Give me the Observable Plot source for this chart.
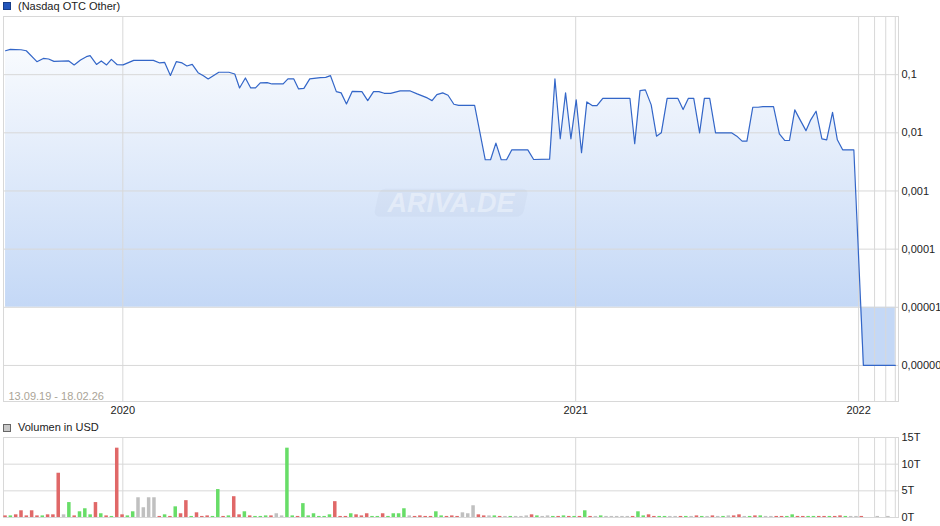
<!DOCTYPE html>
<html><head><meta charset="utf-8">
<script src="https://cdn.jsdelivr.net/npm/d3@7"></script>
<script src="https://cdn.jsdelivr.net/npm/@observablehq/plot@0.6"></script>
<style>
html,body{margin:0;padding:0;background:#fff;overflow:hidden;}
body{width:940px;height:526px;font-family:"Liberation Sans",Arial,sans-serif;font-size:11px;color:#222;}
.legend{position:relative;height:14px;}
.legend .sw{position:absolute;left:3px;top:2px;width:6px;height:6px;border:1px solid #333;}
.legend .lab{position:absolute;left:18px;top:0px;line-height:13px;white-space:nowrap;}
svg{display:block}
</style></head><body>
<div class="legend" id="leg1"><span class="sw" style="background:#2255bb;border-color:#163c88"></span><span class="lab" id="leg1lab"></span></div>
<div id="chart1"></div>
<div class="legend" id="leg2" style="height:16px"><span class="sw" style="background:#c8c8c8;border-color:#666;top:4px"></span><span class="lab" id="leg2lab" style="top:1px"></span></div>
<div id="chart2"></div>
<script>
// ---------- data ----------
const priceSeriesName = "(Nasdaq OTC Other)";
const volumeSeriesName = "Volumen in USD";
const dateRange = "13.09.19 - 18.02.26";
const watermark = "ARIVA.DE";

// position along the chart's (trading-period) axis, one unit per period
const priceT = [0,0.9,2.9,3.9,5.9,7.1,8.1,9.1,11.9,12.9,14.1,15.2,15.9,17.1,18.0,19.0,19.9,21.0,22.1,24.1,27.8,29.0,29.9,31.0,32.1,33.2,34.1,35.1,36.2,37.2,38.1,40.1,42.0,43.1,44.0,45.1,46.1,47.0,47.9,49.2,50.1,52.2,53.1,54.2,55.1,56.1,57.2,59.2,60.2,61.1,62.2,63.1,64.1,65.2,67.0,68.1,69.2,70.2,71.2,72.4,74.2,76.1,77.4,79.3,80.2,81.1,82.2,83.2,84.3,85.2,88.2,90.2,91.2,92.2,93.2,94.2,95.2,98.2,99.3,102.3,103.3,104.3,105.3,106.3,107.3,108.3,109.3,110.3,111.2,112.3,117.4,118.3,119.3,120.3,121.4,122.4,123.3,124.4,126.4,127.4,128.4,129.4,130.5,131.4,132.4,133.5,136.5,137.5,138.5,139.4,140.5,141.5,142.4,144.4,145.5,146.5,147.4,148.4,149.4,150.5,151.4,152.4,153.5,154.4,155.5,156.4,157.4,159.5,161.3,167.3];
const priceV = [0.258,0.272,0.268,0.258,0.167,0.190,0.186,0.169,0.172,0.147,0.179,0.204,0.212,0.150,0.172,0.147,0.183,0.148,0.147,0.176,0.176,0.159,0.163,0.097,0.167,0.159,0.141,0.150,0.108,0.096,0.0844,0.110,0.110,0.1028,0.0591,0.0878,0.0591,0.0591,0.0721,0.0729,0.0692,0.0692,0.0844,0.0844,0.0569,0.0582,0.0844,0.089,0.090,0.096,0.0511,0.0486,0.0314,0.0517,0.0511,0.0358,0.0511,0.0511,0.0478,0.0478,0.0525,0.0525,0.0467,0.0398,0.0358,0.0454,0.0486,0.0442,0.0310,0.0297,0.0297,0.00344,0.00344,0.00664,0.00344,0.00344,0.00510,0.00510,0.00348,0.00352,0.0844,0.00789,0.0486,0.00789,0.0368,0.00454,0.0340,0.0294,0.0294,0.0392,0.0392,0.00648,0.0532,0.0547,0.0302,0.00875,0.0100,0.0392,0.0392,0.0251,0.0392,0.0392,0.0100,0.0392,0.0392,0.0100,0.0100,0.00875,0.00718,0.00718,0.0275,0.0275,0.0282,0.0282,0.00961,0.00738,0.00738,0.0248,0.0167,0.0109,0.0167,0.0235,0.00789,0.00758,0.0225,0.00758,0.00510,0.00510,0.000001,0.000001];
const priceBase = 0.00001;

// volume per period (thousands USD), null = no trade
const volumeV = [
 0.3,0.3,0.5,1.26,0.3,1.26,0.3,0.3,0.5,0.5,
 8.3,0.5,2.8,0.3,1.07,1.64,0.5,2.8,0.7,0.3,
 0.2,13.0,0.5,0.3,1.07,3.7,1.83,3.7,3.7,0.2,
 0.5,0.2,2.0,0.7,3.16,0.2,0.88,0.2,0.3,0.2,
 5.24,0.2,0.3,3.9,0.5,1.07,0.3,0.2,0.2,0.3,
 0.3,0.7,0.3,13.0,0.3,0.2,2.6,0.3,0.7,0.2,
 0.2,0.5,2.97,0.2,0.2,0.7,0.5,0.3,0.7,0.2,
 0.2,0.7,0.2,0.7,0.7,1.64,0.3,0.2,0.3,0.2,
 0.2,1.07,0.3,0.2,0.3,0.2,0.88,0.7,2.2,0.5,
 0.3,0.3,0.3,0.2,0.2,0.2,0.2,0.2,0.3,0.5,
 0.3,0.2,0.3,0.2,0.2,0.3,0.2,0.2,0.2,1.26,
 0.2,0.2,0.3,0.2,0.2,0.2,0.2,0.2,0.2,1.07,
 0.3,0.5,0.2,0.2,0.2,0.2,0.2,0.2,0.2,0.2,
 0.3,0.2,0.2,0.3,0.2,0.2,0.3,0.3,0.5,0.2,
 0.2,0.3,0.3,0.2,0.2,0.2,0.2,0.2,0.5,0.2,
 0.2,0.2,0.2,0.2,0.2,0.2,0.2,0.3,0.2,0.2,
 0.2,0.2,null,null,0.2,null,0.2];
// r = down, g = up, n = unchanged
const volumeDir = ("rgrrrrrgrr"+"rngrgggrgr"+"grrggnnnnr"+"grgrrgrrrg"+"grgrrgrggg"+"rnnggrgggg"+"ggrrrgrrrg"+"grggggnrrr"+"rggrrrnnnr"+"rngrngnnnr"+"gnngrgrgrg"+"rngnnnnnrg"+"grrggnnrgn"+"rgnrngnrrn"+"grgnnrrggr"+"rggrrgrrgn"+"nr--n-n").split("");
const dirColors = {r: "#e06868", g: "#68dd68", n: "#c0c0c0"};

// axes
const yearTicks = [22.05, 107.2, 160.4];
const yearLabels = ["2020", "2021", "2022"];
const extraGrid = [163.4, 165.5, 167.3];
const xDomain = [-0.385, 167.9];
const priceTicks = [0.1, 0.01, 0.001, 0.0001, 0.00001, 0.000001];
const priceTickLabels = ["0,1", "0,01", "0,001", "0,0001", "0,00001", "0,000001"];
const volTicks = [0, 5, 10, 15];
const volTickLabels = ["0T", "5T", "10T", "15T"];

// ---------- build ----------
document.getElementById("leg1lab").textContent = priceSeriesName;
document.getElementById("leg2lab").textContent = volumeSeriesName;

const price = priceT.map((t, i) => ({t, v: priceV[i]}));
const vols = volumeV.map((v, i) => ({i, v, dir: volumeDir[i]})).filter(d => d.v != null);
const gridX = [...yearTicks, ...extraGrid];
const gridColor = "#d8d8d8";
const font = {fontFamily: "Liberation Sans, Arial, sans-serif", fontSize: "11px", color: "#222", background: "transparent", overflow: "visible"};

const p1 = Plot.plot({
  width: 940, height: 406,
  marginTop: 2, marginBottom: 19, marginLeft: 3, marginRight: 42,
  style: font,
  x: {domain: xDomain, ticks: yearTicks, tickFormat: d => yearLabels[yearTicks.indexOf(d)], tickSize: 0, tickPadding: 5, label: null},
  y: {type: "log", domain: [Math.pow(10, -6.62), 1], ticks: priceTicks, tickFormat: d => priceTickLabels[priceTicks.indexOf(d)], tickSize: 0, tickPadding: 3, label: null, axis: "right"},
  marks: [
    Plot.areaY(price, {x: "t", y1: priceBase, y2: "v", fill: "url(#priceGrad)"}),
    Plot.ruleY(priceTicks, {stroke: gridColor}),
    Plot.ruleX(gridX, {stroke: gridColor}),
    Plot.frame({stroke: gridColor}),
    Plot.text([watermark], {frameAnchor: "middle", dy: -6, fontSize: 27, fontStyle: "italic", fontWeight: "bold", fill: "#ffffff", fillOpacity: 0.38}),
    Plot.line(price, {x: "t", y: "v", stroke: "#3366c8", strokeWidth: 1.2}),
    Plot.text([dateRange], {frameAnchor: "bottom-left", dx: 5, dy: -2, textAnchor: "start", lineAnchor: "bottom", fill: "#aaa497", fontSize: 11})
  ]
});
document.getElementById("chart1").appendChild(p1);

const ys = p1.scale("y");
const yTop = ys.apply(1), yBase = ys.apply(priceBase);
d3.select(p1).insert("defs", ":first-child").html(
  `<linearGradient id="priceGrad" gradientUnits="userSpaceOnUse" x1="0" x2="0" y1="${yTop}" y2="${yBase}">
     <stop offset="0" stop-color="#ffffff"/><stop offset="1" stop-color="#c4d8f6"/></linearGradient>`);

const wm = Array.from(p1.querySelectorAll("text")).find(t => t.textContent === watermark);
if (wm) {
  const bb = wm.getBBox();
  const tr = wm.getAttribute("transform") || "";
  d3.select(wm.parentNode).insert("rect", ":first-child")
    .attr("x", bb.x - 10).attr("y", bb.y + 1).attr("width", bb.width + 20).attr("height", bb.height - 2)
    .attr("rx", 6).attr("transform", tr + " skewX(-12)")
    .attr("fill", "#8a9ab8").attr("fill-opacity", 0.07);
}

const p2 = Plot.plot({
  width: 940, height: 90,
  marginTop: 1, marginBottom: 9, marginLeft: 3, marginRight: 42,
  style: font,
  x: {domain: xDomain, axis: null},
  y: {domain: [0, 15], ticks: volTicks, tickFormat: d => volTickLabels[volTicks.indexOf(d)], tickSize: 0, tickPadding: 3, label: null, axis: "right"},
  color: {type: "identity"},
  marks: [
    Plot.ruleY([5, 10], {stroke: gridColor}),
    Plot.ruleX(gridX, {stroke: gridColor}),
    Plot.frame({stroke: gridColor}),
    Plot.rect(vols, {x1: d => d.i - 0.33, x2: d => d.i + 0.33, y1: 0, y2: "v", fill: d => dirColors[d.dir]})
  ]
});
document.getElementById("chart2").appendChild(p2);
</script>
</body></html>
